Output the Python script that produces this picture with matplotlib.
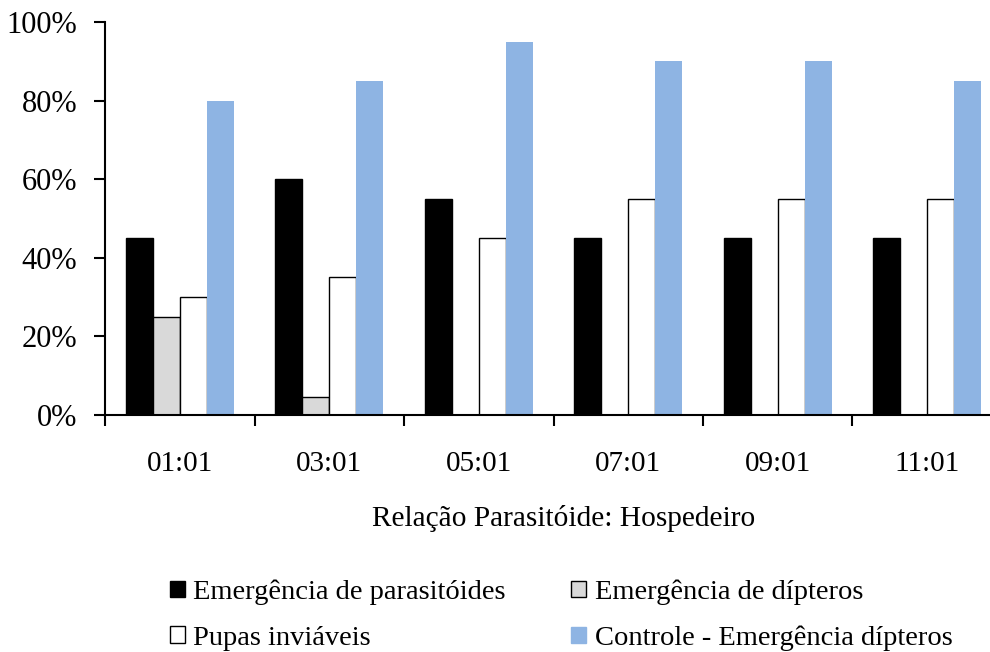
import matplotlib
matplotlib.use("Agg")
import matplotlib.pyplot as plt
import numpy as np
from matplotlib.patches import Patch

plt.rcParams['font.family'] = ['Liberation Serif', 'DejaVu Serif']

categories = ["01:01", "03:01", "05:01", "07:01", "09:01", "11:01"]
series_names = ["Emergência de parasitóides", "Emergência de dípteros",
                "Pupas inviáveis", "Controle - Emergência dípteros"]
parasitoides = [45, 60, 55, 45, 45, 45]
dipteros = [25, 4.5, 0, 0, 0, 0]
inviaveis = [30, 35, 45, 55, 55, 55]
controle = [80, 85, 95, 90, 90, 85]
yticks = [0, 20, 40, 60, 80, 100]

colors = ["#000000", "#D9D9D9", "#FFFFFF", "#8EB4E3"]
edges = ["#000000", "#000000", "#000000", "none"]
data = [parasitoides, dipteros, inviaveis, controle]

fig = plt.figure(figsize=(9.9, 6.52), dpi=100)
ax = fig.add_axes([105/990, (652-415)/652, (1002-105)/990, (415-22)/652])

x = np.arange(len(categories))
w = 0.18
handles = []
for i, (vals, c, e) in enumerate(zip(data, colors, edges)):
    pos = x + (i - 1.5) * w
    vals_arr = np.array(vals, dtype=float)
    mask = vals_arr > 0
    ax.bar(pos[mask], vals_arr[mask], width=w, color=c, edgecolor=e, linewidth=1.0, zorder=2)
    handles.append(Patch(facecolor=c, edgecolor=(e if e != "none" else c), linewidth=1.0))

ax.set_xlim(-0.5, len(categories) - 0.5)
ax.set_ylim(0, 100)
ax.set_yticks(yticks)
ax.set_yticklabels([f"{v}%" for v in yticks])
ax.set_xticks(x)
ax.set_xticklabels(categories)
ax.set_xticks(np.arange(-0.5, len(categories) + 0.5, 1), minor=True)
ax.tick_params(axis='x', which='major', length=0, pad=26, labelsize=21)
ax.tick_params(axis='x', which='minor', length=8, width=1.5, direction='out')
ax.tick_params(axis='y', which='major', length=8, width=1.5, direction='out', pad=12, labelsize=22)
for s in ['top', 'right']:
    ax.spines[s].set_visible(False)
for s in ['left', 'bottom']:
    ax.spines[s].set_linewidth(1.5)
ax.set_xlabel("Relação Parasitóide: Hospedeiro", fontsize=21.2)
ax.xaxis.set_label_coords(0.511, -0.264)
ax.xaxis.label.set_verticalalignment('center')

order = [0, 2, 1, 3]
fig.legend([handles[i] for i in order], [series_names[i] for i in order],
           ncol=2, loc='center', bbox_to_anchor=(0.567, 0.056), frameon=False,
           fontsize=20.5, handlelength=0.52, handleheight=0.52, handletextpad=0.3,
           columnspacing=2.3, labelspacing=0.72)

fig.savefig("out.png", dpi=100)
